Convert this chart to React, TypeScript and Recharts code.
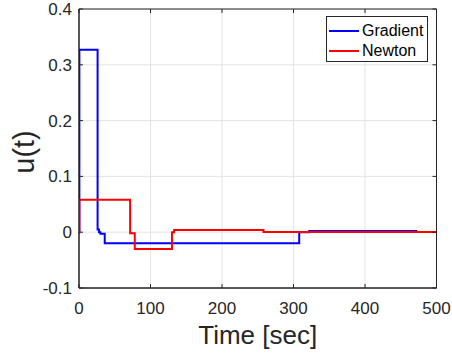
import React from 'react';
import { LineChart, Line, XAxis, YAxis, CartesianGrid, ReferenceArea, Legend, Label } from 'recharts';

const xTicks = [0, 100, 200, 300, 400, 500];
const yTicks = [-0.1, 0, 0.1, 0.2, 0.3, 0.4];

const gradientT = [0, 0.5, 26, 28, 30, 36, 308, 322, 473];
const gradientU = [0, 0.327, 0.005, 0.0, -0.003, -0.02, 0.0, 0.002, 0.002];

const newtonT = [0, 0.5, 71.5, 78, 130, 133, 258, 500];
const newtonU = [0, 0.058, -0.002, -0.03, 0.0, 0.004, 0.0005, 0.0005];

const gradientData = gradientT.map((t, i) => ({ t, u: gradientU[i] }));
const newtonData = newtonT.map((t, i) => ({ t, u: newtonU[i] }));

const FONT = '"Liberation Sans", Arial, Helvetica, sans-serif';
const AX = '#262626';
const PLOT_TOP = 9;
const PLOT_RIGHT = 436.5;

const fmtY = (v: number) => (Math.abs(v) < 1e-9 ? '0' : String(Math.round(v * 10) / 10));

const XTick = (props: any) => {
  const { x, y, payload } = props;
  return (
    <g>
      <line x1={x} x2={x} y1={y - 13.5} y2={y - 17.5} stroke={AX} strokeWidth={1} />
      <line x1={x} x2={x} y1={PLOT_TOP} y2={PLOT_TOP + 4} stroke={AX} strokeWidth={1} />
      <text x={x} y={y} dy="0.71em" textAnchor="middle" fill={AX} fontSize={17} fontFamily={FONT}>
        {payload.value}
      </text>
    </g>
  );
};

const YTick = (props: any) => {
  const { x, y, payload } = props;
  return (
    <g>
      <line x1={x + 7} x2={x + 11} y1={y} y2={y} stroke={AX} strokeWidth={1} />
      <line x1={PLOT_RIGHT} x2={PLOT_RIGHT - 4} y1={y} y2={y} stroke={AX} strokeWidth={1} />
      <text x={x} y={y} dy="0.355em" textAnchor="end" fill={AX} fontSize={17} fontFamily={FONT}>
        {fmtY(payload.value)}
      </text>
    </g>
  );
};

const LegendBox = () => (
  <div
    style={{
      position: 'absolute',
      left: 326,
      top: 16,
      width: 102,
      height: 46,
      boxSizing: 'border-box',
      border: `1px solid ${AX}`,
      background: '#fff',
      fontFamily: FONT,
      fontSize: 16,
      color: '#000',
    }}
  >
    {[
      { name: 'Gradient', color: '#0000ff' },
      { name: 'Newton', color: '#ff0000' },
    ].map((it, i) => (
      <div key={it.name} style={{ position: 'absolute', left: 2, top: 4 + i * 20, height: 20, display: 'flex', alignItems: 'center' }}>
        <div style={{ width: 30, height: 2, background: it.color, marginRight: 3 }} />
        <span>{it.name}</span>
      </div>
    ))}
  </div>
);

export default function App() {
  return (
    <div style={{ position: 'absolute', left: 0, top: 0, width: 452, height: 356, background: '#fff' }}>
      <LineChart width={452} height={356} margin={{ top: 9, right: 15.5, bottom: 0, left: 0 }}>
        <CartesianGrid stroke="#e3e3e3" strokeWidth={1} />
        <XAxis
          dataKey="t"
          type="number"
          domain={[0, 500]}
          ticks={xTicks}
          allowDataOverflow
          height={68}
          tickSize={0}
          tickMargin={13.5}
          stroke={AX}
          tick={<XTick />}
        >
          <Label
            content={(p: any) => {
              const vb = p.viewBox;
              return (
                <text x={vb.x + vb.width / 2} y={344} textAnchor="middle" fontSize={26} fill={AX} fontFamily={FONT}>
                  Time [sec]
                </text>
              );
            }}
          />
        </XAxis>
        <YAxis
          dataKey="u"
          type="number"
          domain={[-0.1, 0.4]}
          ticks={yTicks}
          allowDataOverflow
          width={79}
          tickSize={0}
          tickMargin={7}
          stroke={AX}
          tick={<YTick />}
        >
          <Label
            content={() => {
              const cx = 34;
              const cy = 152;
              return (
                <text x={cx} y={cy} transform={`rotate(-90 ${cx} ${cy})`} textAnchor="middle" fontSize={29} fill={AX} fontFamily={FONT}>
                  u(t)
                </text>
              );
            }}
          />
        </YAxis>
        <ReferenceArea x1={0} x2={500} y1={-0.1} y2={0.4} fill="none" stroke={AX} strokeWidth={1} ifOverflow="visible" />
        <Line data={gradientData} dataKey="u" type="stepAfter" stroke="#0000ff" strokeWidth={2} dot={false} isAnimationActive={false} name="Gradient" />
        <Line data={newtonData} dataKey="u" type="stepAfter" stroke="#ff0000" strokeWidth={2} dot={false} isAnimationActive={false} name="Newton" />
        <Legend content={() => <LegendBox />} wrapperStyle={{ position: 'absolute', left: 0, top: 0, width: 0, height: 0 }} />
      </LineChart>
    </div>
  );
}
